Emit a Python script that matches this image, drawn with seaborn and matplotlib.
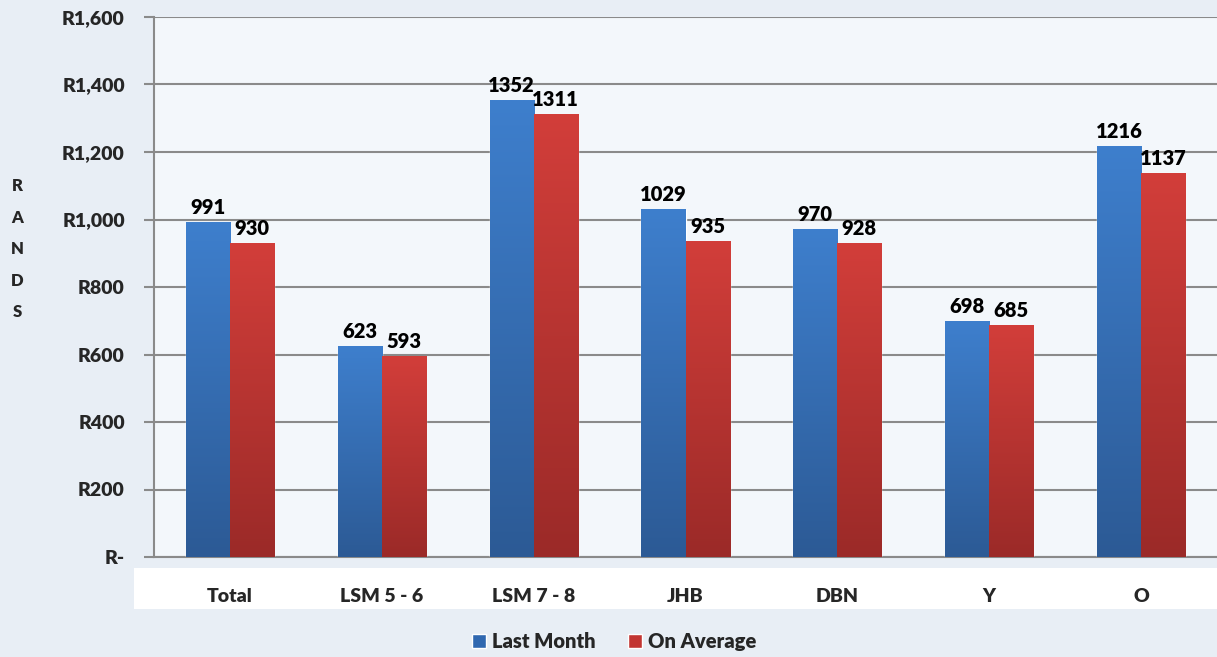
import matplotlib
matplotlib.use("Agg")
import matplotlib.pyplot as plt
import numpy as np
import pandas as pd
import seaborn as sns
from matplotlib.colors import LinearSegmentedColormap
from matplotlib.patches import Rectangle
from matplotlib.ticker import FuncFormatter

# values
categories = ["Total", "LSM 5 - 6", "LSM 7 - 8", "JHB", "DBN", "Y", "O"]
last_month = [991, 623, 1352, 1029, 970, 698, 1216]
on_average = [930, 593, 1311, 935, 928, 685, 1137]
series_names = ["Last Month", "On Average"]
y_ticks = [0, 200, 400, 600, 800, 1000, 1200, 1400, 1600]

df = pd.DataFrame({
    "category": categories * 2,
    "series": [series_names[0]] * len(categories) + [series_names[1]] * len(categories),
    "value": last_month + on_average,
})

sns.set_theme(style="white")
plt.rcParams["font.family"] = ["Lato", "DejaVu Sans"]
WEIGHT = "heavy"

blue_top, blue_bot = "#3e7fcd", "#2c5a95"
red_top, red_bot = "#d23e3a", "#9b2a28"
grid_col = "#8a8a8a"

fig = plt.figure(figsize=(12.17, 6.57), dpi=100)
fig.patch.set_facecolor("#e8eef5")
ax = fig.add_axes([154 / 1217, 1 - 557 / 657, 1 - 154 / 1217, (557 - 17) / 657])
ax.set_facecolor("#f3f7fb")

# white strip behind category labels
strip = Rectangle((134 / 1217, 1 - 609 / 657), 1 - 134 / 1217, 41 / 657,
                  transform=fig.transFigure, facecolor="white", edgecolor="none",
                  zorder=-1)
fig.add_artist(strip)

sns.barplot(data=df, x="category", y="value", hue="series",
            palette=[blue_top, red_top], saturation=1, width=0.58,
            legend=False, ax=ax, zorder=3)

# vertical gradient on every bar
cmaps = [LinearSegmentedColormap.from_list("b", [blue_bot, blue_top]),
         LinearSegmentedColormap.from_list("r", [red_bot, red_top])]
grad = np.linspace(0, 1, 256).reshape(-1, 1)
for cont, cm in zip(ax.containers, cmaps):
    for p in cont.patches:
        x, w, h = p.get_x(), p.get_width(), p.get_height()
        ax.imshow(grad, extent=[x, x + w, 0, h], origin="lower", aspect="auto",
                  cmap=cm, zorder=3.5)
    ax.bar_label(cont, fmt="%d", padding=4, fontsize=14.5, fontweight=WEIGHT,
                 color="black", zorder=5)
ax.set_xlim(-0.5, len(categories) - 0.5)
ax.set_ylim(0, 1600)

ax.set_yticks(y_ticks)
ax.yaxis.set_major_formatter(FuncFormatter(lambda v, _: "R-" if v == 0 else f"R{int(v):,}"))
ax.yaxis.grid(True, color=grid_col, linewidth=1.5, zorder=1)
ax.set_axisbelow(True)

ax.set_xticks(range(len(categories)))
ax.set_xticklabels(categories)
ax.set_xticks(np.arange(-0.5, len(categories) + 0.5, 1), minor=True)
ax.tick_params(axis="x", which="major", length=0, pad=22, labelsize=14)
ax.tick_params(axis="x", which="minor", length=6, width=1.5, color=grid_col, direction="out")
ax.tick_params(axis="y", length=7, width=1.5, color=grid_col, pad=14, labelsize=14,
               left=True)
for lab in ax.get_xticklabels() + ax.get_yticklabels():
    lab.set_fontweight(WEIGHT)

ax.set_xlabel("")
ax.set_ylabel("")
for side in ["top", "right"]:
    ax.spines[side].set_visible(False)
for side in ["left", "bottom"]:
    ax.spines[side].set_color(grid_col)
    ax.spines[side].set_linewidth(1.5)

# stacked axis title
for i, letter in enumerate("RANDS"):
    fig.text(17 / 1217, 1 - (186 + i * 31.5) / 657, letter, ha="center", va="center",
             fontsize=12, fontweight=WEIGHT)

handles = [Rectangle((0, 0), 1, 1, facecolor=c) for c in ["#3068b0", "#c23532"]]
fig.legend(handles, series_names, loc="center", bbox_to_anchor=(0.505, 0.024),
           ncol=2, frameon=False, handlelength=0.7, handleheight=0.7,
           handletextpad=0.3, columnspacing=1.6, prop={"size": 14.5, "weight": WEIGHT})

fig.savefig("out.png", dpi=100, facecolor=fig.get_facecolor())
